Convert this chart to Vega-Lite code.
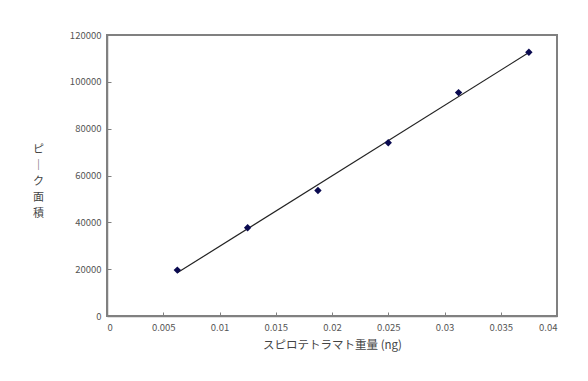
{
  "$schema": "https://vega.github.io/schema/vega-lite/v6.json",
  "autosize": {"type": "none"},
  "width": 450,
  "height": 281,
  "padding": {"left": 107, "top": 35, "right": 31, "bottom": 65},
  "background": "white",
  "data": {"values": [
    {"mass": 0.00625, "area": 19600},
    {"mass": 0.0125, "area": 37700},
    {"mass": 0.01875, "area": 53600},
    {"mass": 0.025, "area": 74000},
    {"mass": 0.03125, "area": 95400},
    {"mass": 0.0375, "area": 112600}
  ]},
  "encoding": {
    "x": {"field": "mass", "type": "quantitative",
      "scale": {"domain": [0, 0.04], "nice": false},
      "axis": {"values": [0, 0.005, 0.01, 0.015, 0.02, 0.025, 0.03, 0.035, 0.04], "format": "~g",
        "title": "スピロテトラマト重量 (ng)", "grid": false, "tickSize": -4, "labelPadding": 10,
        "titlePadding": 8}},
    "y": {"field": "area", "type": "quantitative",
      "scale": {"domain": [0, 120000], "nice": false},
      "axis": {"values": [0, 20000, 40000, 60000, 80000, 100000, 120000], "format": "d",
        "title": ["ピ", "｜", "ク", "面", "積"], "titleAngle": 0, "titleAlign": "center",
        "titleBaseline": "middle", "titleX": -69, "titleY": 114, "titleLineHeight": 16,
        "titleFontSize": 11,
        "grid": false, "tickSize": -4, "labelPadding": 10}}
  },
  "layer": [
    {"mark": {"type": "line", "color": "#222222", "strokeWidth": 1.2},
     "transform": [{"regression": "area", "on": "mass", "extent": [0.00625, 0.0375]}]},
    {"mark": {"type": "point", "shape": "diamond", "filled": true, "color": "#0a0a50", "size": 55, "opacity": 1}}
  ],
  "config": {
    "view": {"stroke": "#808080", "strokeWidth": 2},
    "axis": {"domainColor": "#808080", "domainWidth": 1.5, "tickColor": "#808080",
      "labelColor": "#555555", "labelFont": "Noto Sans CJK JP", "labelFontSize": 9.5,
      "titleColor": "#444444", "titleFont": "Noto Sans CJK JP", "titleFontSize": 11.5, "titleFontWeight": "normal"}
  }
}
